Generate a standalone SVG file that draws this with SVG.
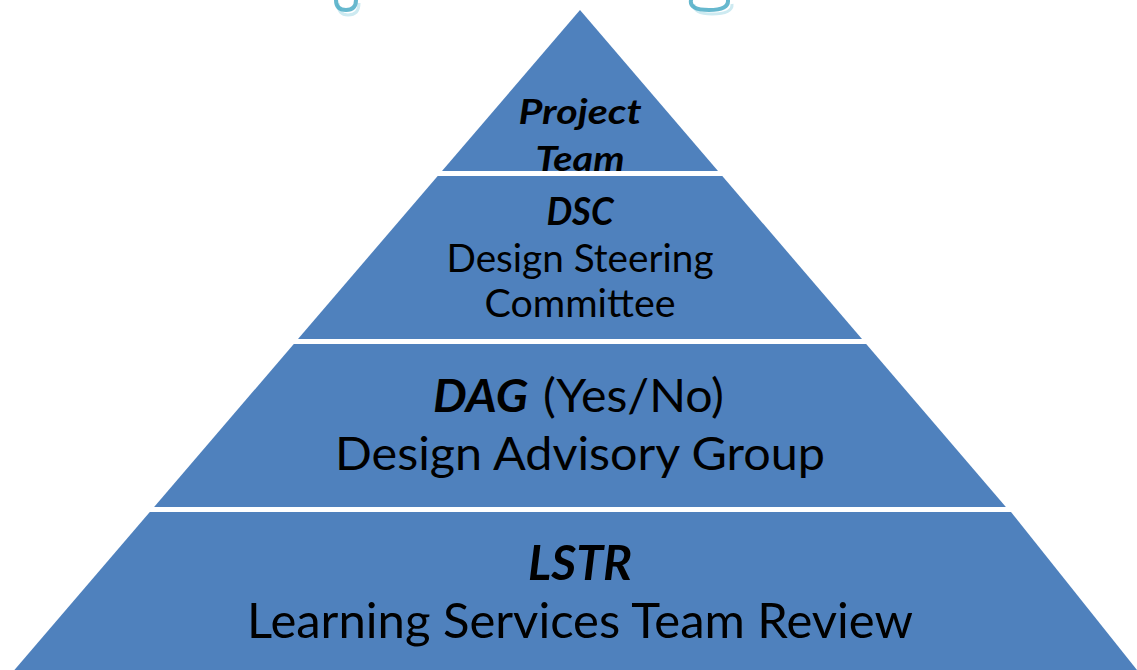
<svg xmlns="http://www.w3.org/2000/svg" width="1137" height="670" viewBox="0 0 1137 670">
  <style>
    .tier { fill: #4F81BD; stroke: none; }
    .lbl { font-family: Lato, "Open Sans", "Liberation Sans", sans-serif; fill: #000000; }
    .bi { font-weight: 700; font-style: italic; }
    .frag { fill: none; stroke: #4BACC6; stroke-width: 4; stroke-linecap: round; opacity: 0.85; }
    .fragShadow { fill: none; stroke: #CDEAF1; stroke-width: 3; }
  </style>
  <defs>
    <clipPath id="clipTop">
      <rect x="0" y="0" width="1137" height="171"/>
    </clipPath>
  </defs>
  <rect x="0" y="0" width="1137" height="670" fill="#FFFFFF"/>

  <g id="title-fragments">
    <path class="fragShadow" d="M 338 3 Q 338 15 348 15 Q 359 15 359 3"/>
    <path class="frag" d="M 336 0 Q 336 10 346 10 Q 356 10 356 0"/>
    <path class="fragShadow" d="M 694 4 Q 693 14 712 14 Q 733 14 732 4"/>
    <path class="frag" d="M 691 0 Q 689 10 709 10 Q 729 10 728 0"/>
  </g>

  <g id="connectors"></g>

  <g id="tier-project-team">
    <polygon class="tier" points="580,10 718,171 442,171"/>
    <g clip-path="url(#clipTop)">
      <text class="lbl bi" x="580" y="124" font-size="34" text-anchor="middle" textLength="123" lengthAdjust="spacingAndGlyphs">Project</text>
      <text class="lbl bi" x="580" y="171" font-size="34" text-anchor="middle" textLength="89" lengthAdjust="spacingAndGlyphs">Team</text>
    </g>
  </g>

  <g id="tier-dsc">
    <polygon class="tier" points="437.7,176 722.3,176 862,339 298,339"/>
    <text class="lbl bi" x="580" y="225" font-size="39" text-anchor="middle" textLength="67" lengthAdjust="spacingAndGlyphs">DSC</text>
    <text class="lbl" x="580" y="272" font-size="39" text-anchor="middle" textLength="267" lengthAdjust="spacingAndGlyphs">Design Steering</text>
    <text class="lbl" x="580" y="317" font-size="39" text-anchor="middle" textLength="191" lengthAdjust="spacingAndGlyphs">Committee</text>
  </g>

  <g id="tier-dag">
    <polygon class="tier" points="293.8,344 866.2,344 1005.9,507 154.1,507"/>
    <text class="lbl bi" x="433" y="412" font-size="46" textLength="95" lengthAdjust="spacingAndGlyphs">DAG</text>
    <text class="lbl" x="543" y="412" font-size="46" textLength="181" lengthAdjust="spacingAndGlyphs">(Yes/No)</text>
    <text class="lbl" x="580" y="470" font-size="46" text-anchor="middle" textLength="490" lengthAdjust="spacingAndGlyphs">Design Advisory Group</text>
  </g>

  <g id="tier-lstr">
    <polygon class="tier" points="149.8,512 1011,512 1137,670 14.4,670"/>
    <text class="lbl bi" x="580" y="580" font-size="48" text-anchor="middle" textLength="104" lengthAdjust="spacingAndGlyphs">LSTR</text>
    <text class="lbl" x="580" y="638" font-size="48" text-anchor="middle" textLength="666" lengthAdjust="spacingAndGlyphs">Learning Services Team Review</text>
  </g>
</svg>
